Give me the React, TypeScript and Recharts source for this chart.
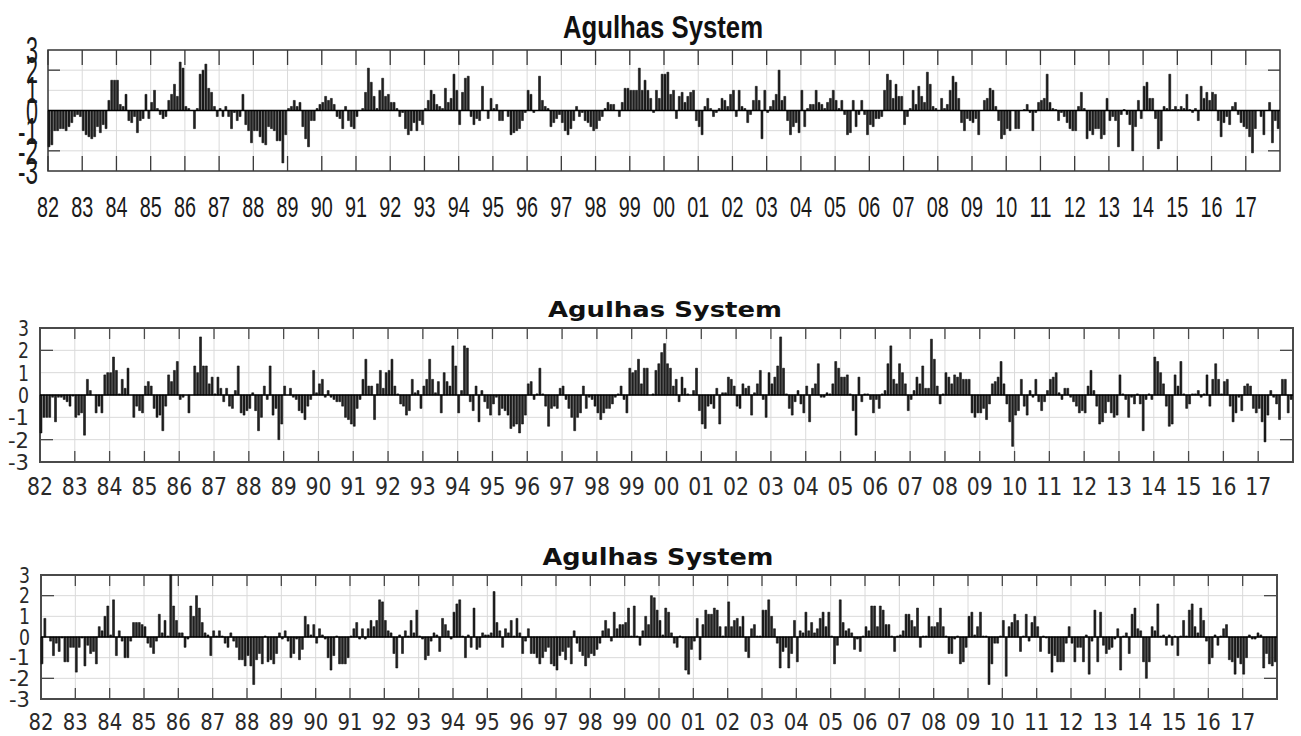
import React from "react";
import { Bar, BarChart, CartesianGrid, ReferenceArea, ReferenceLine, XAxis, YAxis } from "recharts";

// year labels, one per 12 monthly bars (1982..2017)
const yearLabels = [
  "82", "83", "84", "85", "86", "87", "88", "89", "90", "91", "92", "93",
  "94", "95", "96", "97", "98", "99", "00", "01", "02", "03", "04", "05",
  "06", "07", "08", "09", "10", "11", "12", "13", "14", "15", "16", "17",
];
const valueTicks = [-3, -2, -1, 0, 1, 2, 3];
const monthTicks = yearLabels.map((_, k) => k * 12);

// top panel, monthly anomalies, one row per year
const agulhasTop = [
  [-1.8, -1.7, -1.0, -1.0, -0.9, -0.9, -1.0, -0.8, -0.6, -0.3, -0.2, -0.3],
  [-1.0, -1.2, -1.3, -1.4, -1.3, -0.8, -1.1, -0.7, -0.9, 0.5, 1.5, 1.5],
  [1.5, 0.3, 0.2, 0.8, -0.5, -0.6, -0.3, -1.1, -0.5, -0.4, 0.8, -0.4],
  [0.4, 1.0, 0.1, -0.2, -0.4, -0.3, 0.5, 0.8, 1.3, 0.7, 2.4, 2.1],
  [0.2, 0.1, 0.0, -0.9, 0.1, 1.8, 2.0, 2.3, 1.1, 0.9, 0.2, -0.3],
  [0.1, -0.3, 0.2, -0.3, -0.9, -0.1, -0.5, -0.3, 0.8, -0.7, -1.0, -1.6],
  [-1.0, -1.0, -1.3, -1.6, -1.7, -0.8, -0.9, -1.0, -1.5, -1.5, -2.6, -1.2],
  [0.1, 0.2, 0.5, 0.2, 0.4, -0.8, -1.4, -1.8, -0.5, -0.5, 0.1, 0.3],
  [0.4, 0.7, 0.5, 0.6, 0.3, -0.3, -0.4, -0.9, 0.2, -0.5, -0.8, -0.9],
  [-0.3, 0.0, 0.1, 0.9, 2.1, 1.4, 0.7, 0.1, 1.0, 1.6, 0.7, 0.8],
  [0.4, 0.4, 0.1, -0.3, -0.1, -0.9, -1.2, -1.0, -0.6, -1.0, -0.5, -0.7],
  [0.1, 0.5, 1.0, 0.8, 0.3, 0.2, 0.1, 1.1, 0.4, 0.6, 1.8, 1.0],
  [-0.7, 0.9, 1.6, 1.7, -0.3, -0.7, -0.4, -0.5, 1.2, 0.0, -0.4, 0.6],
  [0.1, 0.3, -0.5, -0.5, 0.0, -0.3, -1.2, -1.1, -1.0, -0.9, -0.5, -0.1],
  [1.0, 0.8, -0.1, 0.0, 1.7, 0.5, 0.2, 0.1, -0.8, -0.6, -0.4, -0.2],
  [-0.6, -1.0, -1.2, -0.9, -0.5, 0.2, -0.3, -0.1, -0.5, -0.6, -0.8, -1.0],
  [-0.9, -0.5, -0.3, 0.1, 0.4, 0.3, 0.3, 0.0, -0.3, 0.4, 1.1, 1.1],
  [1.0, 1.0, 1.0, 2.1, 1.0, 1.5, 1.0, 0.6, -0.1, 1.0, 0.6, 1.8],
  [1.8, 1.9, 0.8, 1.0, -0.4, 0.7, 0.9, 0.4, 0.7, 0.9, 1.0, -0.5],
  [-0.8, -1.2, 0.2, 0.6, 0.1, -0.3, -0.1, 0.1, 0.6, 0.5, 0.2, 0.8],
  [1.0, -0.3, 1.0, 0.2, 0.1, -0.6, -0.2, 0.5, 1.2, 0.5, -1.4, 1.0],
  [-0.1, 0.2, 0.5, 0.8, 2.0, 0.5, 0.7, -0.5, -1.2, -0.8, -0.6, -1.1],
  [1.0, -0.8, 0.1, 0.3, 0.3, 1.0, 0.4, 0.3, 0.1, 0.4, 0.6, 1.0],
  [0.5, 0.1, 0.5, -0.2, -1.2, -1.1, 0.5, -0.8, -0.2, 0.5, -0.2, -1.2],
  [-0.7, -0.8, -0.4, -0.4, -0.3, 1.0, 1.8, 1.5, 0.6, 1.3, 0.7, 0.7],
  [-0.7, -0.3, 0.1, 1.0, 0.3, 1.2, 0.7, 0.4, 1.9, 1.3, 0.2, 0.1],
  [0.0, 0.6, 0.1, 0.3, 1.0, 1.7, 1.4, 0.6, -0.6, -1.0, -0.4, -0.5],
  [-0.6, -0.4, -1.2, 0.0, 0.5, 0.6, 1.1, 1.0, 0.2, -0.5, -1.4, -1.2],
  [-0.9, -1.0, 0.0, -0.9, -0.9, 0.0, 0.05, 0.3, -0.1, -1.0, -0.1, 0.4],
  [0.5, 0.6, 1.8, 0.4, 0.1, 0.05, -0.5, -0.1, -0.3, -0.6, -0.9, -1.0],
  [-1.0, 0.2, 0.9, 0.1, -1.4, -1.0, -1.2, -0.9, -0.9, -1.4, -1.2, 0.6],
  [-0.5, -0.3, -0.5, -1.8, -0.2, 0.05, -0.2, -0.7, -2.0, -0.8, 0.5, -0.4],
  [1.2, 1.4, 0.6, 0.6, -0.4, -1.9, -1.5, 0.2, 0.1, 1.8, 0.05, 0.2],
  [0.05, 0.2, 0.1, 0.8, 0.05, -0.1, 0.1, -0.5, 1.2, 0.6, 0.9, 0.5],
  [0.9, 0.8, -0.5, -1.3, -0.6, -0.3, -0.7, 0.2, 0.4, -0.2, -0.6, -0.8],
  [-0.9, -1.3, -2.1, -0.9, 0.0, -0.3, -1.2, 0.0, 0.4, -1.6, -0.5, -0.9],
];

// middle panel
const agulhasMid = [
  [-1.7, -1.0, -1.0, -1.0, -0.1, -1.2, -0.1, -0.1, -0.2, -0.3, -0.5, -0.05],
  [-1.0, -0.9, -0.8, -1.8, 0.7, 0.2, 0.0, -0.8, -0.5, -0.8, 0.9, 1.0],
  [1.0, 1.7, 1.1, 0.05, 0.7, 0.3, 1.2, 0.0, -1.0, -0.5, -0.7, -0.8],
  [0.4, 0.6, 0.4, -0.6, -1.0, -0.9, -1.6, -0.5, 0.9, 0.6, 1.1, 1.5],
  [-0.2, -0.1, 0.0, -0.8, 0.0, 1.3, 1.0, 2.6, 1.3, 1.3, 0.5, 0.8],
  [0.05, 0.8, 0.3, -0.3, 0.3, -0.5, -0.6, 0.2, 1.3, -0.8, -0.9, -0.7],
  [-0.6, 0.1, -0.7, -1.6, -1.0, 0.4, -0.2, 1.3, -0.9, -0.6, -2.0, -1.3],
  [0.4, 0.0, 0.3, -0.1, -0.2, -0.7, -0.8, -1.1, -0.5, -0.2, 1.1, 0.1],
  [0.5, 0.7, -0.1, 0.2, -0.1, -0.2, -0.3, -0.3, -0.5, -1.0, -1.1, -1.3],
  [-1.4, -0.6, -0.2, 0.7, 1.6, 0.4, 0.4, -1.1, 0.5, 1.1, 0.3, 1.0],
  [1.1, 1.6, 0.4, 0.05, -0.4, -0.5, -0.9, -0.7, 0.7, 0.1, 0.2, -0.6],
  [0.4, 0.7, 1.6, 0.7, 0.1, 0.6, -0.8, 1.0, 0.6, 0.4, 2.2, 1.3],
  [-0.8, 0.2, 2.2, 2.1, -0.3, -0.7, 0.4, -1.2, 0.2, -0.3, -0.6, -0.9],
  [-0.4, -0.1, -0.9, -0.6, -0.7, -0.9, -1.5, -1.4, -1.3, -1.7, -1.3, -0.9],
  [0.5, 0.6, -0.2, 0.05, 1.2, 0.05, -0.5, -1.4, -0.6, -0.5, -0.6, 0.3],
  [0.4, -0.2, -0.6, -1.0, -1.6, -1.0, -0.8, 0.4, -0.6, -0.1, -0.2, -0.5],
  [-0.8, -1.1, -0.8, -0.6, -0.6, -0.4, -0.1, 0.05, 0.4, -0.2, -0.8, 1.2],
  [1.0, 1.1, 1.6, 0.5, 1.2, 1.2, 0.0, 0.05, 1.1, 1.4, 1.9, 2.3],
  [1.4, 1.2, 0.4, 0.7, -0.3, 0.8, 0.3, 0.05, 0.0, 0.2, 1.2, -0.7],
  [-1.3, -1.5, -0.5, -0.4, -0.6, 0.3, -1.3, 0.1, 0.1, 0.8, 0.7, 0.4],
  [-0.5, -0.6, 0.5, 0.3, 0.4, -0.9, 0.1, 0.5, 1.1, -0.2, -1.0, 1.0],
  [0.5, 0.8, 1.3, 2.6, 1.2, 0.05, -0.6, -0.9, -0.3, 0.2, -0.4, -0.8],
  [0.4, -1.2, 0.3, 0.5, 1.4, -0.1, -0.1, 0.1, 0.05, 0.5, 1.5, 1.2],
  [0.8, 0.8, 0.9, 0.05, -0.7, -1.8, 0.8, -0.3, 0.05, 0.05, -0.2, -0.8],
  [-0.2, -0.6, 0.05, 0.2, 1.4, 2.2, 0.7, 0.5, 1.4, 1.0, 0.5, -0.7],
  [-0.2, 0.2, 0.8, 0.5, 1.3, 0.3, 0.3, 2.5, 1.6, 0.4, -0.4, 0.05],
  [1.0, 0.8, 0.5, 0.9, 0.8, 1.0, 0.7, 0.7, 0.7, -0.8, -1.0, -0.8],
  [-0.8, -0.6, -1.1, -0.4, 0.5, 0.6, 0.8, 1.5, 0.5, -0.4, -1.2, -2.3],
  [-0.9, -0.7, 0.7, -0.5, -0.9, 0.2, -0.1, 0.7, -0.3, -0.7, -0.3, 0.2],
  [0.7, 0.8, 1.0, 0.1, -0.2, 0.3, 0.3, -0.1, -0.3, -0.5, -0.8, -0.7],
  [-0.8, 0.4, 1.1, 0.2, -0.5, -1.3, -1.2, -0.8, -0.3, -0.8, -1.0, -0.9],
  [0.9, 0.05, -0.2, -1.0, -0.1, -0.4, 0.05, -0.4, -1.6, -0.2, 0.05, -0.2],
  [1.7, 1.5, 1.0, 0.5, -0.5, -1.4, -1.3, 0.9, 0.4, 1.5, 0.05, -0.6],
  [-0.4, 0.05, 0.05, 0.2, -0.1, 0.05, 0.9, -0.5, 0.7, 1.4, 0.7, 0.05],
  [0.6, 0.7, -0.5, -1.2, -0.8, -0.1, -0.7, 0.4, 0.5, 0.4, -0.6, -0.8],
  [-0.6, -1.2, -2.1, -0.9, 0.2, -0.1, -0.4, -1.1, 0.7, 0.7, -0.8, -0.2],
];

// bottom panel
const agulhasLow = [
  [-1.3, 0.9, 0.0, -0.2, -0.9, -0.3, -0.7, -0.05, -1.2, -1.2, -0.5, -0.5],
  [-1.7, -0.5, -0.05, -1.4, -0.4, -0.8, -0.7, -1.3, 0.5, 0.3, 1.0, 1.5],
  [0.1, 1.8, -0.9, 0.3, -0.2, -1.0, -1.0, -0.2, 0.7, 0.7, 0.7, 0.6],
  [0.5, -0.3, -0.5, -0.8, -0.2, 1.1, 0.2, 0.8, 0.05, 3.0, 1.5, 0.8],
  [0.2, 0.2, -0.5, -0.1, 1.5, 1.0, 2.0, 1.4, 0.7, 0.2, 0.1, -0.9],
  [0.3, 0.05, 0.3, 0.05, -0.3, -0.5, 0.2, -0.2, -0.5, -1.1, -1.1, -1.4],
  [-0.9, -1.4, -2.3, -1.1, -0.8, -1.3, 0.05, -1.2, -1.1, -1.3, -0.8, 0.2],
  [-0.1, 0.3, -0.2, -1.0, -0.8, -0.1, -1.1, -0.6, 1.0, 0.6, 0.1, 0.6],
  [-0.3, 0.4, 0.1, -0.1, -1.0, -1.6, -0.9, 0.05, -1.3, -1.3, -1.3, -1.0],
  [0.05, 0.4, 0.7, -0.1, 0.4, -0.1, 0.4, 0.8, 0.5, 0.8, 1.8, 1.7],
  [0.8, 0.3, 0.2, -0.8, -1.5, 0.1, -0.8, 0.3, 0.05, 0.8, 0.2, 1.3],
  [0.05, -0.1, -1.1, -0.9, -0.2, 0.2, 0.1, -0.7, 0.9, 0.6, 0.3, -0.1],
  [1.2, 1.6, 1.8, 0.05, -1.0, 0.1, -0.5, 1.4, -0.6, -0.5, 0.2, 0.1],
  [0.1, 0.2, 2.2, 0.7, 0.3, -0.5, 0.4, 0.2, 0.8, 0.05, 0.9, 0.2],
  [-0.8, -0.2, 0.4, -0.8, -0.8, -1.0, -1.3, -1.0, -0.7, -0.5, -1.3, -1.4],
  [-1.6, -0.9, -0.7, -1.1, -0.5, -1.3, 0.3, -0.3, -0.7, -0.9, -1.4, -1.0],
  [-0.8, -0.9, -0.6, -0.3, 0.3, 0.8, 0.4, -0.2, 1.2, 0.4, 0.6, 0.6],
  [0.7, 1.4, 0.05, 1.5, 0.05, -0.4, 0.3, 1.0, 0.6, 2.0, 1.9, 1.3],
  [0.8, 0.1, 1.4, 1.2, 0.2, -0.3, -0.5, 0.05, -0.05, -1.6, -1.8, -0.6],
  [-0.2, 0.9, -1.1, 0.6, 1.3, 1.1, 1.1, 1.4, 1.3, 0.5, 0.05, 0.5],
  [1.7, 0.5, 0.8, 0.9, 0.5, 1.0, -0.7, -1.0, 0.4, 0.6, 0.05, 0.05],
  [1.3, 1.3, 1.8, 1.0, 0.4, -0.3, -1.5, -0.7, -0.5, -1.5, -0.8, 0.8],
  [-1.2, 0.3, 0.2, 1.2, 0.3, 0.7, 0.2, 0.4, 0.9, 1.2, 0.5, 1.2],
  [0.05, -1.3, -0.4, 1.8, 0.7, 0.3, 0.4, 0.2, -0.6, -0.1, -0.7, 0.05],
  [0.5, 0.3, 1.5, 1.5, 0.5, 1.5, 1.3, 0.6, 0.6, 0.05, -0.7, 0.05],
  [0.1, 0.3, 1.1, 1.1, 0.8, 0.5, 1.4, -0.5, 0.05, 0.05, 1.0, 0.5],
  [0.5, 0.7, 1.4, 0.5, 0.05, -0.8, -0.8, -0.1, 0.05, -1.3, -1.2, -0.5],
  [1.0, 1.2, 0.1, 0.5, 1.2, 0.05, 0.05, -2.3, -1.3, -0.3, -0.3, 0.05],
  [0.8, -1.9, 0.5, 0.7, 1.1, 0.8, -0.7, 0.05, 1.1, -0.2, 0.7, 1.0],
  [0.5, -0.7, 0.05, -0.05, -0.8, -1.7, -0.9, -1.2, -1.2, -1.2, -0.3, 0.5],
  [-0.3, -1.2, -0.5, -0.5, -1.2, 0.1, -1.8, -0.2, 1.3, -1.2, 1.2, -0.4],
  [-0.8, -0.6, -0.5, -0.1, 0.4, -1.6, 0.05, 0.2, -0.8, 1.1, 1.4, 0.4],
  [0.3, -1.2, -2.0, -1.2, 0.5, 0.3, 1.6, 0.05, 0.1, -0.4, 0.1, -0.4],
  [0.05, -0.9, 0.05, 0.8, 0.05, 1.3, 1.6, 0.5, 0.2, 1.4, 0.8, -0.2],
  [-1.3, -1.0, 0.1, -0.4, 0.05, 0.4, 0.6, -1.1, -1.2, -1.8, -1.0, -1.3],
  [-1.8, -1.0, 0.1, -0.1, -0.1, 0.2, 0.1, -1.5, -0.8, -1.3, -1.4, -1.2],
];

interface Look {
  font: string;
  xSize: number;
  xWidth: number;
  xDrop: number;
  ySize: number;
  yW1: number;
  yW2: number;
  yRight: number;
  yDrop: number;
  tickLen: number;
  sideLen: number;
  frame: string;
  frameW: number;
  ink: string;
}

const narrowLook: Look = {
  font: "'Liberation Sans', Arial, sans-serif",
  xSize: 30, xWidth: 22, xDrop: 46,
  ySize: 36, yW1: 12, yW2: 20, yRight: 38, yDrop: 13,
  tickLen: 15, sideLen: 12, frame: "#3a3a3a", frameW: 1.5, ink: "#1a1a1a",
};
const dejavuMid: Look = {
  font: "'DejaVu Sans', sans-serif",
  xSize: 25, xWidth: 26, xDrop: 33,
  ySize: 22, yW1: 11, yW2: 21, yRight: 29, yDrop: 8,
  tickLen: 11, sideLen: 13, frame: "#4a4a4a", frameW: 2, ink: "#2a2a2a",
};
const dejavuLow: Look = { ...dejavuMid, xSize: 23, xWidth: 25, xDrop: 31, ySize: 21, yRight: 30, yDrop: 7.5 };

function YearTick(props: any) {
  const { x, y, payload, look, plotH } = props;
  const label = yearLabels[Math.round(payload.value / 12)];
  return (
    <g>
      <line x1={x} y1={y} x2={x} y2={y - look.tickLen} stroke={look.frame} strokeWidth={1.3} />
      <line x1={x} y1={y - plotH} x2={x} y2={y - plotH + look.tickLen} stroke={look.frame} strokeWidth={1.3} />
      <text x={x} y={y + look.xDrop} textAnchor="middle" fontFamily={look.font} fontSize={look.xSize}
        fill={look.ink} textLength={look.xWidth} lengthAdjust="spacingAndGlyphs">
        {label}
      </text>
    </g>
  );
}

function ValueTick(props: any) {
  const { x, y, payload, look, plotW } = props;
  const v = payload.value as number;
  const s = String(v);
  return (
    <g>
      {Math.abs(v) === 2 && (
        <>
          <line x1={x} y1={y} x2={x + look.sideLen} y2={y} stroke={look.frame} strokeWidth={1.3} />
          <line x1={x + plotW - look.sideLen} y1={y} x2={x + plotW} y2={y} stroke={look.frame} strokeWidth={1.3} />
        </>
      )}
      <text x={look.yRight} y={y + look.yDrop} textAnchor="end" fontFamily={look.font} fontSize={look.ySize}
        fill={look.ink} textLength={s.length > 1 ? look.yW2 : look.yW1} lengthAdjust="spacingAndGlyphs">
        {s}
      </text>
    </g>
  );
}

function AnomalyPanel({ rows, top, height, left, right, plotTop, plotBottom, look }: {
  rows: number[][]; top: number; height: number; left: number; right: number;
  plotTop: number; plotBottom: number; look: Look;
}) {
  const data = rows.flat().map((v, i) => ({ t: i + 0.5, v }));
  const pTop = plotTop - top;
  const pBottom = plotBottom - top;
  const plotH = pBottom - pTop;
  const plotW = right - left;
  return (
    <div style={{ position: "absolute", left: 0, top, width: 1301, height }}>
      <BarChart width={1301} height={height} data={data}
        margin={{ top: pTop, right: 1301 - right, bottom: 0, left: 0 }}>
        <CartesianGrid stroke="#dadada" strokeWidth={1} />
        <XAxis type="number" dataKey="t" domain={[0, 432]} ticks={monthTicks} interval={0}
          height={height - pBottom} tickSize={0} tickMargin={0} axisLine={false} tickLine={false}
          tick={(p: any) => <YearTick {...p} look={look} plotH={plotH} />} />
        <YAxis type="number" domain={[-3, 3]} ticks={valueTicks} interval={0} width={left}
          tickSize={0} tickMargin={0} axisLine={false} tickLine={false}
          tick={(p: any) => <ValueTick {...p} look={look} plotW={plotW} />} />
        <ReferenceLine y={0} stroke="#000" strokeWidth={1.5} />
        <Bar dataKey="v" barSize={2} fill="#222" stroke="#000" strokeWidth={0.5} isAnimationActive={false} />
        <ReferenceArea x1={0} x2={432} y1={-3} y2={3} fill="none" fillOpacity={0}
          stroke={look.frame} strokeWidth={look.frameW} />
      </BarChart>
    </div>
  );
}

export default function App() {
  return (
    <div style={{ position: "absolute", left: 0, top: 0, width: 1301, height: 736, background: "#fff", overflow: "hidden" }}>
      <AnomalyPanel rows={agulhasTop} top={0} height={240} left={48} right={1280}
        plotTop={50} plotBottom={171} look={narrowLook} />
      <AnomalyPanel rows={agulhasMid} top={280} height={222} left={40} right={1293}
        plotTop={328} plotBottom={462} look={dejavuMid} />
      <AnomalyPanel rows={agulhasLow} top={530} height={206} left={41} right={1277}
        plotTop={575} plotBottom={699} look={dejavuLow} />
      <svg width={1301} height={736} style={{ position: "absolute", left: 0, top: 0, pointerEvents: "none" }}>
        <text x={663} y={38} textAnchor="middle" fontFamily="'Liberation Sans', Arial, sans-serif"
          fontWeight="bold" fontSize={31} fill="#111" textLength={200} lengthAdjust="spacingAndGlyphs">
          Agulhas System
        </text>
        <text x={665} y={317} textAnchor="middle" fontFamily="'DejaVu Sans', sans-serif"
          fontWeight="bold" fontSize={22} fill="#111" textLength={234} lengthAdjust="spacingAndGlyphs">
          Agulhas System
        </text>
        <text x={658} y={565} textAnchor="middle" fontFamily="'DejaVu Sans', sans-serif"
          fontWeight="bold" fontSize={23} fill="#111" textLength={231} lengthAdjust="spacingAndGlyphs">
          Agulhas System
        </text>
      </svg>
    </div>
  );
}
